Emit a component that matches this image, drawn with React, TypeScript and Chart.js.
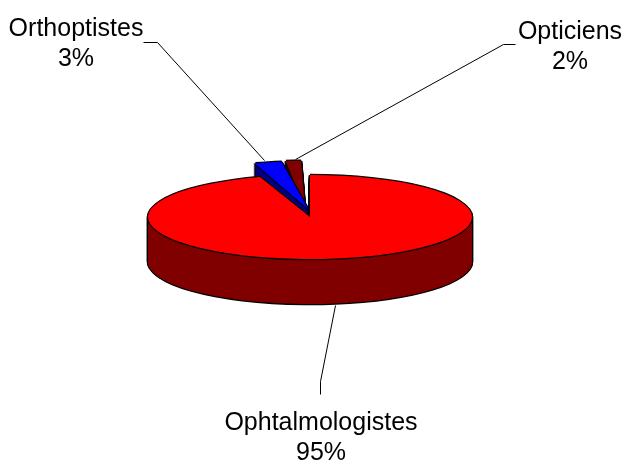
import React, { useEffect, useRef } from "react";
import { Chart, registerables } from "chart.js";

Chart.register(...registerables);

const categories = ["Ophtalmologistes", "Orthoptistes", "Opticiens"];
const shares = [95, 3, 2];

const topColors = ["#ff0000", "#0000ff", "#800000"];
const sideColors = ["#800000", "#000080", "#400000"];
const explode = [0, 118, 118];
const nudgeX = [0, 5, -3];

const RX = 162;
const RY = 42;
const DEPTH = 45;
const EDGE = 1.3;
const FONT = '25px "Liberation Sans", Arial, sans-serif';

const labelPlacement = [
  { x: 321, y: 430, path: [[335, 305], [320, 381], [320, 394]] },
  { x: 76, y: 36, path: [[143, 42], [157, 42], [264, 160]] },
  { x: 570, y: 39, path: [[515, 44], [503, 44], [295, 159]] },
];

const pie3d = {
  id: "pie3d",
  beforeDatasetsDraw(chart: any) {
    const ctx = chart.ctx;
    const arcs = chart.getDatasetMeta(0).data;

    const paint = (arc: any, color: string, dx: number, dy: number) => {
      const base = arc.options;
      const r = arc.outerRadius;
      ctx.save();
      ctx.translate(arc.x + dx, arc.y + dy);
      ctx.scale(RX / r, RY / r);
      ctx.translate(-arc.x, -arc.y);
      arc.options = { ...base, backgroundColor: color, borderWidth: 0 };
      arc.draw(ctx);
      arc.options = base;
      ctx.restore();
    };

    [2, 1, 0].forEach((i) => {
      const arc = arcs[i];
      const n = nudgeX[i];
      for (let d = DEPTH; d >= 1; d--) {
        paint(arc, "#000", n - EDGE, d);
        paint(arc, "#000", n + EDGE, d);
      }
      paint(arc, "#000", n, DEPTH + EDGE);
      for (let d = DEPTH; d >= 1; d--) {
        paint(arc, sideColors[i], n, d);
      }
      paint(arc, "#000", n - EDGE, 0);
      paint(arc, "#000", n + EDGE, 0);
      paint(arc, "#000", n, -EDGE);
      paint(arc, "#000", n, EDGE);
      paint(arc, topColors[i], n, 0);
    });

    ctx.save();
    ctx.strokeStyle = "#000";
    ctx.lineWidth = 1;
    ctx.fillStyle = "#000";
    ctx.font = FONT;
    ctx.textAlign = "center";
    ctx.textBaseline = "alphabetic";
    categories.forEach((name, i) => {
      const p = labelPlacement[i];
      ctx.beginPath();
      p.path.forEach(([x, y], j) => (j ? ctx.lineTo(x + 0.5, y + 0.5) : ctx.moveTo(x + 0.5, y + 0.5)));
      ctx.stroke();
      ctx.fillText(name, p.x, p.y);
      ctx.fillText(`${shares[i]}%`, p.x, p.y + 30);
    });
    ctx.restore();
    return false;
  },
};

export default function App() {
  const ref = useRef<HTMLCanvasElement>(null);
  useEffect(() => {
    document.body.style.margin = "0";
    document.body.style.background = "#fff";
    const chart = new Chart(ref.current as HTMLCanvasElement, {
      type: "pie",
      data: {
        labels: categories,
        datasets: [
          {
            data: shares,
            backgroundColor: topColors,
            borderWidth: 0,
            offset: explode,
          },
        ],
      },
      options: {
        animation: false,
        responsive: false,
        radius: RX,
        events: [],
        layout: { padding: { right: 4, bottom: 30 } },
        plugins: { legend: { display: false }, tooltip: { enabled: false } },
      },
      plugins: [pie3d],
    } as any);
    return () => chart.destroy();
  }, []);
  return <canvas ref={ref} width={624} height={464} style={{ display: "block" }} />;
}
